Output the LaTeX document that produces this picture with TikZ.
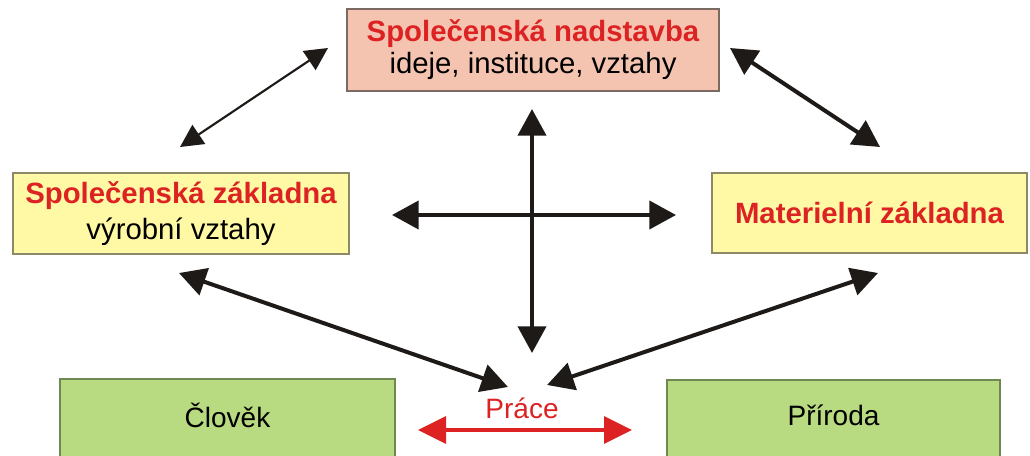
\documentclass[tikz,border=0pt]{standalone}
\usepackage{fontspec}
\setmainfont{Liberation Sans}
\usetikzlibrary{arrows.meta}
\definecolor{pinkfill}{HTML}{F5C4B1}
\definecolor{pinkline}{HTML}{7A6A62}
\definecolor{yelfill}{HTML}{FFF9A5}
\definecolor{yelline}{HTML}{8C8A66}
\definecolor{grnfill}{HTML}{B8DA80}
\definecolor{grnline}{HTML}{6E8A52}
\definecolor{redtxt}{HTML}{DC2222}
\definecolor{arrowblack}{HTML}{1E1A18}
\tikzset{
  boxbase/.style={draw, line width=1.5pt, inner sep=0pt, align=center, font=\fontsize{22pt}{25pt}\selectfont},
  pinkbox/.style={boxbase, fill=pinkfill, draw=pinkline},
  yelbox/.style={boxbase, fill=yelfill, draw=yelline},
  grnbox/.style={boxbase, fill=grnfill, draw=grnline, font=\fontsize{21pt}{24pt}\selectfont},
  title/.style={},
  thickarr/.style={draw=arrowblack, line width=3pt, {Triangle[length=20pt,width=21pt]}-{Triangle[length=20pt,width=21pt]}},
  thinarr/.style={draw=arrowblack, line width=1.6pt, {Triangle[length=17pt,width=17pt]}-{Triangle[length=17pt,width=17pt]}},
  redarr/.style={draw=redtxt, line width=3pt, {Triangle[length=21pt,width=20pt]}-{Triangle[length=21pt,width=20pt]}},
}
\newcommand{\rb}[1]{{\color{redtxt}\bfseries #1}}
\begin{document}
\begin{tikzpicture}[x=0.75pt,y=-0.75pt]
\useasboundingbox (0,0) rectangle (1030,456);
% boxes
\node[pinkbox, minimum width=372*0.75pt, minimum height=82*0.75pt] (nad) at (533,50)
  {\rb{Společenská nadstavba}\\[-1pt] ideje, instituce, vztahy};
\node[yelbox, minimum width=336*0.75pt, minimum height=81*0.75pt] (spz) at (181,213.5)
  {\rb{Společenská základna}\\[2pt] výrobní vztahy};
\node[yelbox, minimum width=315*0.75pt, minimum height=80*0.75pt] (mat) at (869.5,213)
  {\rb{Materielní základna}};
\node[grnbox, minimum width=335*0.75pt, minimum height=84*0.75pt, anchor=north] (clo) at (227.5,378)
  {\raisebox{8pt}{Člověk}};
\node[grnbox, minimum width=333*0.75pt, minimum height=84*0.75pt, anchor=north] (pri) at (833.5,379)
  {\raisebox{10pt}{Příroda}};
\node[font=\fontsize{21pt}{24pt}\selectfont, text=redtxt, inner sep=0pt] (pra) at (522,408) {Práce};
% arrow end points
\coordinate (a1) at (180,147);
\coordinate (a2) at (328,48);
\coordinate (b1) at (730,48);
\coordinate (b2) at (880,147);
\coordinate (vt) at (532,109);
\coordinate (vb) at (532,353);
\coordinate (hl) at (392,215);
\coordinate (hr) at (676,215);
\coordinate (c1) at (179,273);
\coordinate (c2) at (508,387);
\coordinate (d1) at (878,273);
\coordinate (d2) at (547,385);
\coordinate (r1) at (418,430);
\coordinate (r2) at (632,430);
% connectors
\draw[thinarr] (a1) -- (a2);
\draw[thickarr] (b1) -- (b2);
\draw[thickarr] (vt) -- (vb);
\draw[thickarr] (hl) -- (hr);
\draw[thickarr] (c1) -- (c2);
\draw[thickarr] (d1) -- (d2);
\draw[redarr] (r1) -- (r2);
\end{tikzpicture}
\end{document}
